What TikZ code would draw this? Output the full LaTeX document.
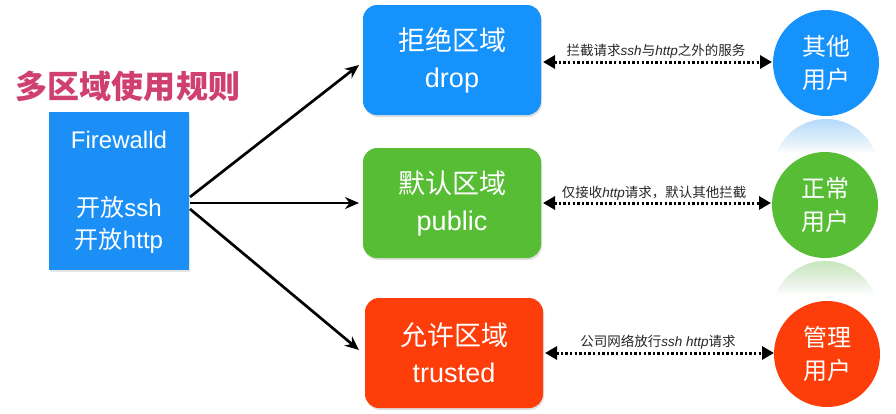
\documentclass[tikz,border=0pt]{standalone}
\usepackage{fontspec}
\setmainfont{Noto Sans CJK SC}
\newfontfamily\lt{Liberation Sans}
\usetikzlibrary{arrows.meta,shadows}
\definecolor{fwblue}{HTML}{1B8FF5}
\definecolor{zblue}{HTML}{1592FB}
\definecolor{zgreen}{HTML}{57BD35}
\definecolor{zred}{HTML}{FD3E0B}
\definecolor{ttl}{HTML}{CF3F70}
\begin{document}
\begin{tikzpicture}[x=1pt,y=-1pt,
  zone/.style={rounded corners=14pt, minimum width=178pt, minimum height=110pt,
    text=white, font=\fontsize{27}{37}\selectfont, align=center, inner sep=0pt,
    drop shadow={opacity=0.25, shadow xshift=1pt, shadow yshift=-2pt}},
  user/.style={circle, minimum size=106pt, text=white,
    font=\fontsize{24}{33}\selectfont, align=center, inner sep=0pt},
  fwtext/.style={text=white, font=\fontsize{24}{30}\selectfont, align=center, inner sep=0pt},
  flow/.style={line width=2.7pt, -{Stealth[length=14pt,width=12pt]}},
  link/.style={line width=3pt, dash pattern=on 2.4pt off 2.2pt,
    {Triangle[length=12pt,width=13pt]}-{Triangle[length=12pt,width=13pt]}},
  lab/.style={font=\fontsize{13.5}{15}\selectfont, inner sep=0pt, text=black!85}
]
\useasboundingbox (0,0) rectangle (896,413);
\fill[white] (0,0) rectangle (896,413);

% title
\node[text=ttl, font=\fontsize{32}{36}\selectfont\bfseries, inner sep=0pt] (title) at (128,86) {多区域使用规则};

% firewalld box
\node[fill=fwblue, minimum width=140pt, minimum height=158pt, inner sep=0pt,
  drop shadow={opacity=0.2, shadow xshift=1pt, shadow yshift=-2pt}] (fw) at (119,191) {};
\node[fwtext] (fwt1) at (119,140) {\lt Firewalld};
\node[fwtext] (fwt2) at (119,207) {开放\lt ssh};
\node[fwtext] (fwt3) at (119,241) {开放\lt http};

% zones
\node[zone, fill=zblue] (drop) at (452,60) {拒绝区域\\\lt drop};
\node[zone, fill=zgreen] (pub) at (452,203) {默认区域\\\lt public};
\node[zone, fill=zred] (trust) at (454,353) {允许区域\\\lt trusted};

% reflections (faded by cumulative layers)
\foreach \i in {1,...,17}{
  \begin{scope}
    \clip (760,118) rectangle (895,{118+2*\i});
    \fill[zblue, fill opacity=0.02] (826,172) circle (53);
  \end{scope}
  \begin{scope}
    \clip (760,260) rectangle (895,{260+2*\i});
    \fill[zgreen, fill opacity=0.02] (825,314) circle (53);
  \end{scope}
}

% users
\node[user, fill=zblue] (u1) at (826,63) {其他\\用户};
\node[user, fill=zgreen] (u2) at (825,205) {正常\\用户};
\node[user, fill=zred] (u3) at (827,354) {管理\\用户};

% flows
\coordinate (s1) at (190,197);
\coordinate (s2) at (190,203);
\coordinate (s3) at (190,209);
\coordinate (e1) at (359,65);
\coordinate (e2) at (359,203);
\coordinate (e3) at (359,350);
\draw[flow] (s1) -- (e1);
\draw[flow] (s2) -- (e2);
\draw[flow] (s3) -- (e3);

% links
\coordinate (a1) at (543,62);  \coordinate (b1) at (772,62);
\coordinate (a2) at (543,203); \coordinate (b2) at (771,203);
\coordinate (a3) at (545,353); \coordinate (b3) at (774,353);
\draw[link] (a1) -- (b1);
\draw[link] (a2) -- (b2);
\draw[link] (a3) -- (b3);
\node[lab] (l1) at (656,51) {拦截请求{\lt\itshape ssh}与{\lt\itshape http}之外的服务};
\node[lab] (l2) at (654,193) {仅接收{\lt\itshape http}请求，默认其他拦截};
\node[lab] (l3) at (658,342) {公司网络放行{\lt\itshape ssh http}请求};
\end{tikzpicture}
\end{document}
